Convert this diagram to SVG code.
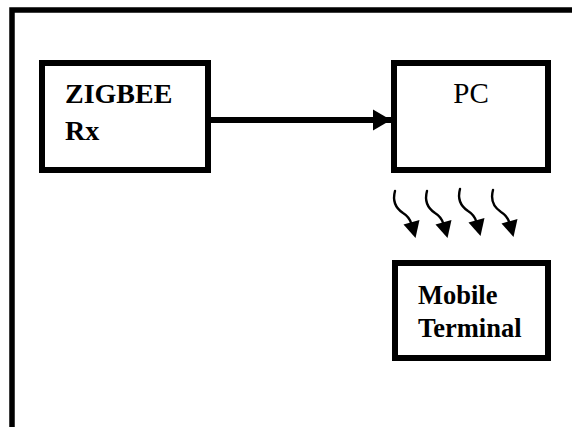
<svg xmlns="http://www.w3.org/2000/svg" width="572" height="427" viewBox="0 0 572 427">
  <style>
    .box { fill: #ffffff; stroke: #000000; stroke-width: 6; }
    .frame { fill: none; stroke: #000000; stroke-width: 5.5; }
    .lbl { font-family: "Liberation Serif", "Times New Roman", serif; fill: #000000; }
    .b { font-weight: bold; }
    .main { fill: none; stroke: #000000; stroke-width: 6; }
    .wave { fill: none; stroke: #000000; stroke-width: 2.4; stroke-linecap: round; }
  </style>
  <defs>
    <marker id="head" markerUnits="userSpaceOnUse" markerWidth="20" markerHeight="22" refX="18" refY="11" orient="auto">
      <polygon points="0,0.5 18,11 0,21.5" fill="#000000"/>
    </marker>
    <g id="squiggle">
      <path class="wave" d="M0,0 C-3,11 2,18 8,22 C13,25 15,28 16.5,33"/>
      <polygon points="8.5,33.5 24.5,29 20.5,47" fill="#000000"/>
    </g>
  </defs>
  <rect x="0" y="0" width="572" height="427" fill="#ffffff"/>
  <path class="frame" d="M12,427 V10 H572"/>

  <g id="zigbee">
    <rect class="box" x="42" y="63" width="166" height="107"/>
    <text class="lbl b" x="65" y="103" font-size="28">ZIGBEE</text>
    <text class="lbl b" x="65" y="140" font-size="28">Rx</text>
  </g>

  <g id="pc">
    <rect class="box" x="394" y="63" width="154" height="107"/>
    <text class="lbl" x="471" y="103" font-size="29" text-anchor="middle">PC</text>
  </g>

  <g id="mobile">
    <rect class="box" x="395" y="263" width="153" height="95"/>
    <text class="lbl b" x="418" y="304" font-size="26.5">Mobile</text>
    <text class="lbl b" x="418" y="337" font-size="26.5">Terminal</text>
  </g>

  <g id="connectors">
    <path class="main" d="M211,120 H391" marker-end="url(#head)"/>
    <use href="#squiggle" x="395" y="191"/>
    <use href="#squiggle" x="427" y="191"/>
    <use href="#squiggle" x="460" y="189"/>
    <use href="#squiggle" x="493" y="190"/>
  </g>
</svg>
